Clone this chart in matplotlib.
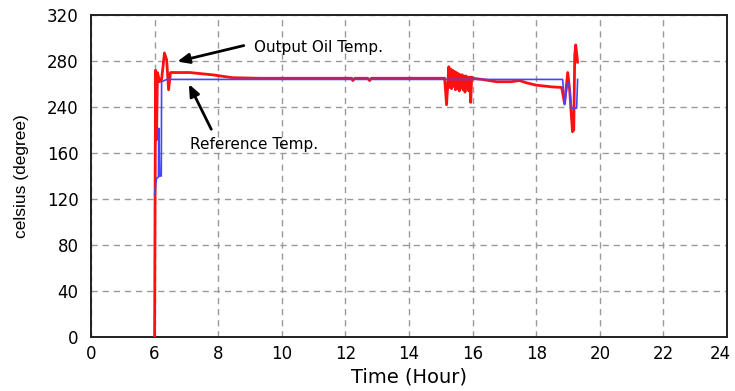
import numpy as np
import matplotlib
matplotlib.use("Agg")
import matplotlib.pyplot as plt
from matplotlib.transforms import ScaledTranslation

# values (hours, degrees)
ref_hours = [6.00, 6.06, 6.12, 6.13, 6.16, 6.21, 6.22, 6.38, 18.83, 18.89, 18.99, 19.05,
             19.11, 19.27, 19.30]
ref_temp = [124, 138, 139, 203, 140, 140, 262, 264, 264, 242, 262, 256,
            238, 238, 264]

oil_hours = [6.00, 6.03, 6.06, 6.09, 6.16, 6.22, 6.31, 6.38, 6.44, 6.50, 6.72, 7.10,
             7.82, 8.45, 9.30, 12.20, 12.23, 12.30, 12.70, 12.76, 12.82, 15.12, 15.18,
             15.25, 15.28, 15.31, 15.34, 15.37, 15.40, 15.43, 15.46, 15.49, 15.52,
             15.55, 15.58, 15.61, 15.64, 15.67, 15.70, 15.73, 15.76, 15.79, 15.82,
             15.85, 15.88, 15.91, 15.94, 15.97, 16.00, 16.30, 16.75, 17.20, 17.48,
             17.70, 18.00, 18.50, 18.80, 18.89, 18.99, 19.05, 19.14, 19.18, 19.21,
             19.24, 19.30]
oil_temp = [0, 272, 183, 270, 262, 264, 287, 281, 255, 270, 270, 270,
            268, 265.5, 265, 265, 263, 265, 265, 263, 265, 265, 242,
            275, 257, 273, 256, 272, 258, 271, 255, 270, 256,
            269, 254, 268, 257, 268, 255, 267, 253, 267, 256,
            266, 254, 266, 244, 266, 265, 264, 262, 262, 263,
            261, 259, 257.5, 257, 243, 270, 255, 197, 200, 285,
            294, 279]

x_ticks = [0, 6, 8, 10, 12, 14, 16, 18, 20, 22, 24]
y_ticks = [0, 40, 80, 120, 160, 240, 280, 320]


# both axes are broken in the original: 0-6 h and 160-240 deg take one step each
def xfwd(x):
    x = np.asarray(x, dtype=float)
    return np.where(x <= 6, x / 6, 1 + (x - 6) / 2)


def xinv(p):
    p = np.asarray(p, dtype=float)
    return np.where(p <= 1, 6 * p, 6 + 2 * (p - 1))


def yfwd(v):
    v = np.asarray(v, dtype=float)
    return np.where(v <= 160, v / 40, np.where(v <= 240, 4 + (v - 160) / 80, 5 + (v - 240) / 40))


def yinv(p):
    p = np.asarray(p, dtype=float)
    return np.where(p <= 4, 40 * p, np.where(p <= 5, 160 + 80 * (p - 4), 240 + 40 * (p - 5)))


fig = plt.figure(figsize=(7.35, 3.91), dpi=100)
ax = fig.add_axes([0.1238, 0.138, 0.8654, 0.8236])
ax.set_xscale('function', functions=(xfwd, xinv))
ax.set_yscale('function', functions=(yfwd, yinv))

ax.plot(oil_hours, oil_temp, color='#ff1010', lw=2.0, zorder=3)
ax.plot(ref_hours, ref_temp, color='#4545ff', lw=1.2, zorder=4)

ax.set_xlim(0, 24)
ax.set_ylim(0, 320)
ax.set_xticks(x_ticks)
ax.set_xticklabels([str(t) for t in x_ticks])
ax.set_yticks(y_ticks)
ax.set_yticklabels([str(t) for t in y_ticks])
ax.minorticks_off()
ax.tick_params(length=0, labelsize=12)
ax.tick_params(axis='y', pad=9)
ax.tick_params(axis='x', pad=6)
ax.grid(True, color='#9a9a9a', lw=1.0, linestyle=(0, (4.5, 3.5)))
for s in ax.spines.values():
    s.set_linewidth(1.4)
    s.set_color('#202020')

# last x label sits a little inside the frame, like the original
lab = ax.get_xticklabels()[-1]
lab.set_transform(lab.get_transform() + ScaledTranslation(-0.07, 0, fig.dpi_scale_trans))

ax.set_ylabel('celsius (degree)', family='Liberation Sans', fontsize=12.5, labelpad=13)
ax.set_xlabel('Time (Hour)', fontsize=14, labelpad=3)

ax.text(9.14, 292, 'Output Oil Temp.', fontsize=11, va='center', ha='left')
ax.annotate('', xy=(6.63, 279), xytext=(8.89, 294),
            arrowprops=dict(arrowstyle='-|>,head_length=0.7,head_width=0.3',
                            color='black', lw=2))
ax.text(7.10, 174, 'Reference Temp.', fontsize=11, va='center', ha='left')
ax.annotate('', xy=(7.04, 262), xytext=(7.82, 197),
            arrowprops=dict(arrowstyle='-|>,head_length=0.7,head_width=0.3',
                            color='black', lw=2))

plt.savefig('out.png', dpi=100)
